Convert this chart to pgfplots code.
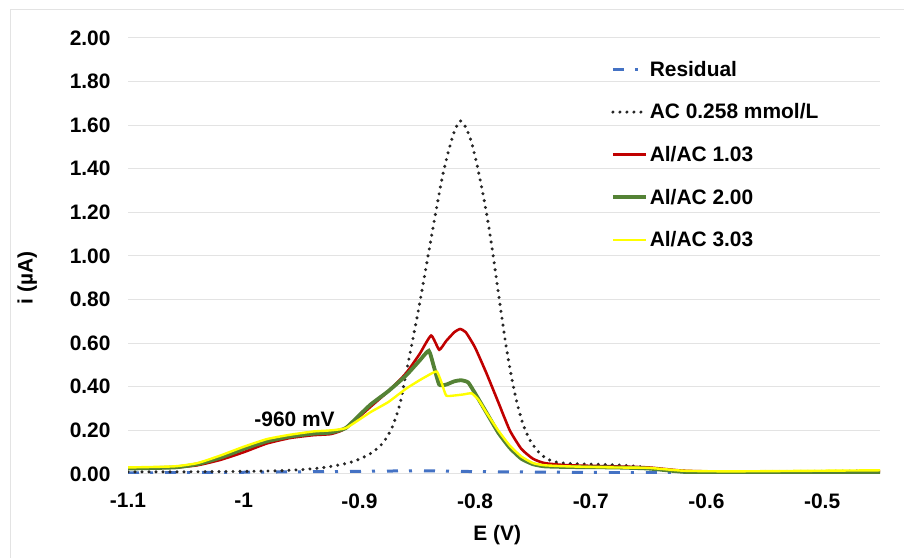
\documentclass[border=0pt]{standalone}
\usepackage{pgfplots}
\pgfplotsset{compat=1.18}
\usepackage{fontspec}
\setmainfont{Liberation Sans}
\definecolor{cblue}{HTML}{4472C4}
\definecolor{cred}{HTML}{C00000}
\definecolor{cgreen}{HTML}{548235}
\definecolor{cyel}{HTML}{FFFF00}
\definecolor{cgrid}{HTML}{E3E3E3}
\newcommand{\chf}{\fontsize{21}{24}\selectfont\bfseries}
\begin{document}
\begin{tikzpicture}[x=1bp,y=1bp]
\useasboundingbox (0,0) rectangle (904,558);
\draw[cgrid, line width=1bp] (10,0) -- (10,548) -- (904,548);
\begin{axis}[
  at={(128bp,84bp)}, anchor=south west,
  width=752bp, height=436bp, scale only axis,
  xmin=-1.1, xmax=-0.45, ymin=0, ymax=2,
  xtick={-1.1,-1,-0.9,-0.8,-0.7,-0.6,-0.5},
  xticklabels={-1.1,-1,-0.9,-0.8,-0.7,-0.6,-0.5},
  ytick={0,0.2,...,2.01},
  yticklabel style={/pgf/number format/fixed,/pgf/number format/fixed zerofill,/pgf/number format/precision=2,/pgf/number format/assume math mode=true, xshift=-14bp},
  ticklabel style={font=\chf},
  xticklabel style={yshift=-16bp},
  major tick length=0pt,
  axis x line*=bottom, axis y line*=left,
  x axis line style={draw=cgrid, line width=1bp, -},
  y axis line style={draw=none},
  ymajorgrids, grid style={cgrid, line width=1bp},
  xlabel={E (V)}, ylabel={i (µA)},
  label style={font=\chf},
  xlabel style={at={(rel axis cs:0.491,-0.14)}, anchor=center},
  ylabel style={at={(rel axis cs:-0.134,0.45)}, anchor=center},
  legend cell align=left,
  legend style={at={(0.642,0.952)}, anchor=north west, draw=none, fill=none,
    font=\chf, row sep=22bp, inner sep=0pt,
    /tikz/every even column/.append style={column sep=2bp}},
  legend image code/.code={\draw[#1] (0bp,0bp) -- (33bp,0bp);},
]
\addplot[cblue, line width=3bp, dash pattern=on 11bp off 11bp on 3bp off 12bp] coordinates {
(-1.10,0.005) (-1.00,0.008) (-0.90,0.012) (-0.85,0.015) (-0.80,0.011) (-0.70,0.007) (-0.60,0.005) (-0.45,0.005)};
\addlegendentry{Residual}
\addplot[black!85, line width=3.4bp, line cap=round, dash pattern=on 0bp off 7bp, smooth, tension=0.4] coordinates {
(-1.10,0.010) (-1.05,0.010) (-1.00,0.012) (-0.97,0.015) (-0.95,0.020) (-0.93,0.030) (-0.91,0.050) (-0.90,0.068) (-0.89,0.095) (-0.88,0.14) (-0.872,0.21) (-0.865,0.32) (-0.859,0.48) (-0.853,0.64) (-0.848,0.78) (-0.843,0.93) (-0.838,1.08) (-0.833,1.23) (-0.828,1.37) (-0.823,1.48) (-0.818,1.57) (-0.813,1.62) (-0.808,1.59) (-0.803,1.52) (-0.798,1.41) (-0.793,1.28) (-0.788,1.13) (-0.783,0.95) (-0.778,0.76) (-0.773,0.58) (-0.768,0.43) (-0.763,0.31) (-0.758,0.22) (-0.752,0.15) (-0.745,0.10) (-0.738,0.07) (-0.73,0.055) (-0.72,0.048) (-0.70,0.045) (-0.68,0.042) (-0.66,0.035) (-0.64,0.022) (-0.62,0.012) (-0.58,0.010) (-0.50,0.012) (-0.45,0.015)};
\addlegendentry{AC 0.258 mmol/L}
\addplot[cred, line width=2.6bp, smooth, tension=0.3] coordinates {
(-1.10,0.025) (-1.06,0.03) (-1.04,0.04) (-1.02,0.065) (-1.00,0.10) (-0.98,0.14) (-0.96,0.165) (-0.94,0.178) (-0.925,0.183) (-0.915,0.20) (-0.905,0.24) (-0.89,0.31) (-0.875,0.38) (-0.86,0.46) (-0.848,0.55) (-0.838,0.635) (-0.831,0.57) (-0.825,0.61) (-0.818,0.65) (-0.813,0.665) (-0.808,0.65) (-0.80,0.58) (-0.79,0.46) (-0.78,0.33) (-0.77,0.20) (-0.76,0.115) (-0.75,0.07) (-0.74,0.05) (-0.72,0.04) (-0.68,0.035) (-0.65,0.03) (-0.62,0.015) (-0.58,0.01) (-0.50,0.01) (-0.45,0.012)};
\addlegendentry{Al/AC 1.03}
\addplot[cgreen, line width=3.8bp, smooth, tension=0.3] coordinates {
(-1.10,0.025) (-1.06,0.03) (-1.04,0.045) (-1.02,0.075) (-1.00,0.115) (-0.98,0.15) (-0.96,0.172) (-0.94,0.185) (-0.925,0.19) (-0.912,0.21) (-0.90,0.27) (-0.89,0.32) (-0.875,0.38) (-0.86,0.45) (-0.848,0.52) (-0.840,0.565) (-0.836,0.50) (-0.831,0.41) (-0.825,0.41) (-0.818,0.425) (-0.812,0.43) (-0.806,0.42) (-0.80,0.37) (-0.79,0.28) (-0.78,0.19) (-0.77,0.12) (-0.76,0.07) (-0.75,0.045) (-0.74,0.035) (-0.72,0.032) (-0.68,0.03) (-0.65,0.025) (-0.62,0.01) (-0.58,0.006) (-0.50,0.006) (-0.45,0.008)};
\addlegendentry{Al/AC 2.00}
\addplot[cyel, line width=2.4bp, smooth, tension=0.3] coordinates {
(-1.10,0.03) (-1.06,0.035) (-1.04,0.05) (-1.02,0.085) (-1.00,0.125) (-0.98,0.16) (-0.96,0.18) (-0.94,0.195) (-0.925,0.20) (-0.912,0.21) (-0.90,0.25) (-0.89,0.285) (-0.875,0.33) (-0.86,0.39) (-0.848,0.43) (-0.838,0.46) (-0.833,0.47) (-0.829,0.42) (-0.825,0.36) (-0.818,0.36) (-0.81,0.365) (-0.803,0.37) (-0.797,0.34) (-0.79,0.28) (-0.78,0.20) (-0.77,0.13) (-0.76,0.08) (-0.75,0.05) (-0.74,0.04) (-0.72,0.035) (-0.68,0.03) (-0.65,0.028) (-0.62,0.015) (-0.58,0.012) (-0.50,0.015) (-0.45,0.017)};
\addlegendentry{Al/AC 3.03}
\node[font=\chf] at (axis cs:-0.956,0.25) {-960 mV};
\end{axis}
\end{tikzpicture}
\end{document}
